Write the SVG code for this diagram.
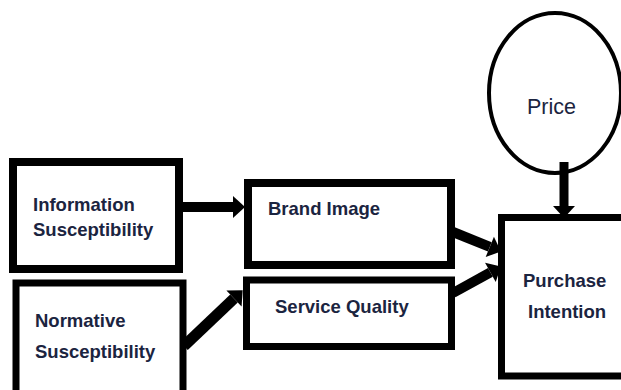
<svg xmlns="http://www.w3.org/2000/svg" width="621" height="390" viewBox="0 0 621 390">
<defs>
<style>
.box{fill:#fff;stroke:#000;stroke-width:8}
.lbl{font-family:"Liberation Sans",Arial,sans-serif;font-weight:bold;font-size:18.5px;fill:#1b2440}
.conn{stroke:#000;stroke-width:10;fill:none;stroke-linecap:butt}
</style>
<marker id="ah" markerUnits="userSpaceOnUse" markerWidth="12" markerHeight="22" refX="0" refY="11" orient="auto" overflow="visible">
<path d="M0,0 L12,11 L0,22 z" fill="#000"/>
</marker>
</defs>
<rect width="621" height="390" fill="#fff"/>
<g id="node-info">
<rect class="box" x="13" y="162" width="166" height="107"/>
<text class="lbl" x="33" y="211">Information</text>
<text class="lbl" x="33" y="236">Susceptibility</text>
</g>
<g id="node-normative">
<rect class="box" x="16" y="283" width="167" height="120" style="stroke-width:7"/>
<text class="lbl" x="35" y="327">Normative</text>
<text class="lbl" x="35" y="358">Susceptibility</text>
</g>
<g id="node-brand">
<rect class="box" x="248" y="183" width="203" height="82"/>
<text class="lbl" x="268" y="215">Brand Image</text>
</g>
<g id="node-service">
<rect class="box" x="246.5" y="280" width="205" height="66.5" style="stroke-width:7"/>
<text class="lbl" x="275" y="313">Service Quality</text>
</g>
<g id="node-purchase">
<rect class="box" x="501.5" y="217.5" width="130" height="158.5" style="stroke-width:7"/>
<text class="lbl" x="523" y="287">Purchase</text>
<text class="lbl" x="528" y="318">Intention</text>
</g>
<g id="node-price">
<ellipse cx="555" cy="93" rx="66" ry="80" fill="#fff" stroke="#000" stroke-width="4"/>
<text x="527" y="114" style="font-family:'Liberation Sans',Arial,sans-serif;font-size:21.5px;fill:#1b2440">Price</text>
</g>
<g id="connectors">
<line class="conn" x1="183" y1="207" x2="233" y2="207" marker-end="url(#ah)"/>
<line class="conn" x1="184" y1="346" x2="234" y2="298.5" marker-end="url(#ah)" style="stroke-width:11"/>
<line class="conn" x1="453" y1="232" x2="489.8" y2="246.9" marker-end="url(#ah)"/>
<line class="conn" x1="453" y1="293" x2="490.4" y2="272.3" marker-end="url(#ah)"/>
<line class="conn" x1="564" y1="162" x2="564" y2="206" marker-end="url(#ah)" style="stroke-width:9"/>
</g>
</svg>
